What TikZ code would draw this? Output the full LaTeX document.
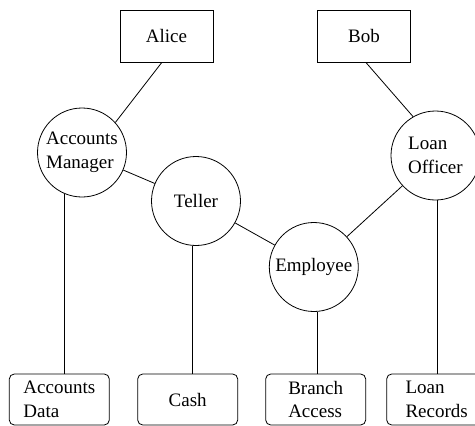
\documentclass[tikz,border=0pt]{standalone}
\usepackage{fontspec}
\setmainfont{Liberation Serif}
\begin{document}
\begin{tikzpicture}[x=1pt,y=-1pt,
  every node/.style={font=\fontsize{19}{23.5}\selectfont, align=left},
  actor/.style={draw, line width=0.8pt, minimum width=93pt, minimum height=52pt, inner sep=0pt},
  role/.style={draw, circle, line width=0.8pt, minimum size=89pt, inner sep=0pt},
  res/.style={draw, rounded corners=5pt, line width=0.8pt, minimum width=100pt, minimum height=51pt, inner sep=0pt},
  link/.style={line width=0.8pt}]
\clip (0,0) rectangle (475,426);
\node[actor] (alice) at (166.5,36) {Alice};
\node[actor] (bob) at (364,36) {Bob};
\node[role] (am) at (82,152.5) {Accounts\\Manager};
\node[role] (teller) at (196,201) {Teller};
\node[role] (emp) at (313.8,267) {Employee};
\node[role] (lo) at (435.5,155.5) {Loan\\Officer};
\node[res] (ad) at (59.3,399.5) {Accounts\\Data};
\node[res] (cash) at (187.7,399.5) {Cash};
\node[res] (ba) at (315.7,399.5) {Branch\\Access};
\node[res] (lr) at (436.7,399.5) {Loan\\Records};
\draw[link] (alice.260) -- (am.42);
\draw[link] (bob.274) -- (lo.120);
\draw[link] (am) -- (teller);
\draw[link] (teller) -- (emp);
\draw[link] (emp) -- (lo);
\draw[link] (am.247.5) -- (am.247.5 |- ad.north);
\draw[link] (teller.265.7) -- (teller.265.7 |- cash.north);
\draw[link] (emp.274.5) -- (emp.274.5 |- ba.north);
\draw[link] (lo.273.6) -- (lo.273.6 |- lr.north);
\end{tikzpicture}
\end{document}
